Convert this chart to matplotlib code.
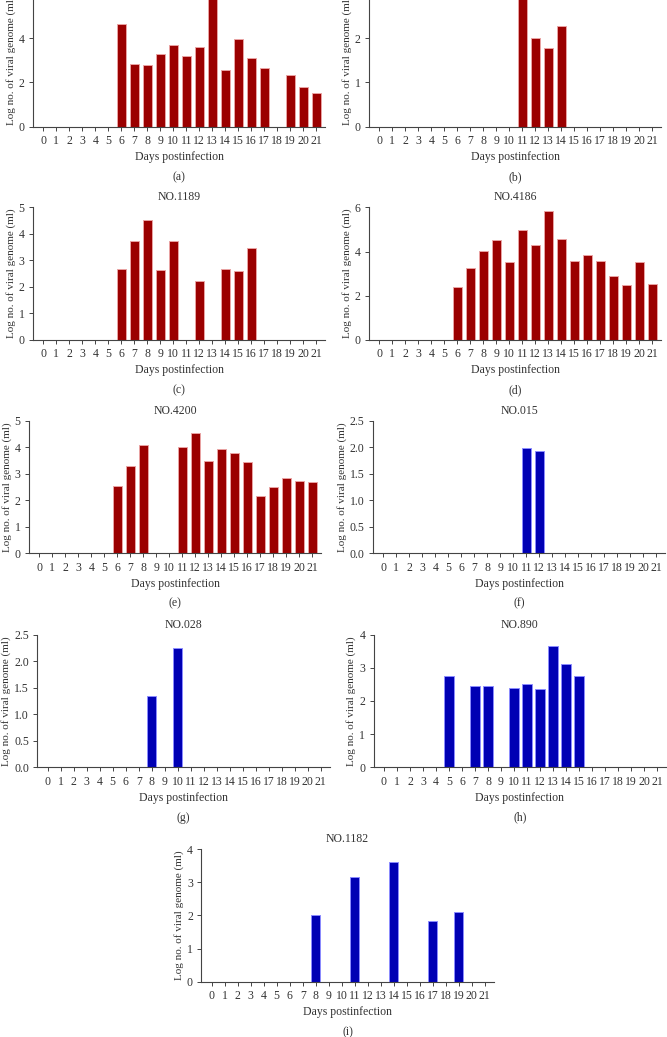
import matplotlib.pyplot as plt

# Days postinfection (x categories)
days = list(range(22))

# Log no. of viral genome per animal (0 = not detected)
vals_a = [0, 0, 0, 0, 0, 0, 4.63, 2.84, 2.78, 3.27, 3.68, 3.20, 3.62, 5.90, 2.58, 3.98, 3.12, 2.64, 0, 2.35, 1.81, 1.54]
vals_b = [0, 0, 0, 0, 0, 0, 0, 0, 0, 0, 0, 2.95, 2.00, 1.77, 2.27, 0, 0, 0, 0, 0, 0, 0]
vals_1189 = [0, 0, 0, 0, 0, 0, 2.68, 3.72, 4.52, 2.63, 3.72, 0, 2.22, 0, 2.66, 2.61, 3.45, 0, 0, 0, 0, 0]
vals_4186 = [0, 0, 0, 0, 0, 0, 2.38, 3.24, 4.03, 4.51, 3.53, 4.96, 4.31, 5.84, 4.57, 3.59, 3.83, 3.57, 2.90, 2.49, 3.53, 2.55]
vals_4200 = [0, 0, 0, 0, 0, 0, 2.54, 3.30, 4.07, 0, 0, 4.00, 4.52, 3.49, 3.94, 3.79, 3.44, 2.17, 2.49, 2.84, 2.71, 2.68]
vals_015 = [0, 0, 0, 0, 0, 0, 0, 0, 0, 0, 0, 1.98, 1.93, 0, 0, 0, 0, 0, 0, 0, 0, 0]
vals_028 = [0, 0, 0, 0, 0, 0, 0, 0, 1.35, 0, 2.24, 0, 0, 0, 0, 0, 0, 0, 0, 0, 0, 0]
vals_890 = [0, 0, 0, 0, 0, 2.76, 0, 2.44, 2.44, 0, 2.40, 2.50, 2.36, 3.65, 3.12, 2.76, 0, 0, 0, 0, 0, 0]
vals_1182 = [0, 0, 0, 0, 0, 0, 0, 0, 2.00, 0, 0, 3.15, 0, 0, 3.61, 0, 0, 1.82, 0, 2.11, 0, 0]

RED, RED_EDGE = '#9b0000', '#e9a3a3'
BLUE, BLUE_EDGE = '#0000b4', '#8c8cff'

W, H = 667, 1037
plt.rcParams['font.family'] = ['Liberation Serif', 'DejaVu Serif']

fig = plt.figure(figsize=(W / 100, H / 100), dpi=100)

# (title, values, color, edge, ymax, yticks, tick fmt, x of label "0" in px, bottom of axes in px, caption)
panels = [
    (None, vals_a, RED, RED_EDGE, 6, [0, 2, 4, 6], '%d', 43.3, 126.7, '(a)'),
    (None, vals_b, RED, RED_EDGE, 3, [0, 1, 2, 3], '%d', 379.3, 126.7, '(b)'),
    ('NO.1189', vals_1189, RED, RED_EDGE, 5, [0, 1, 2, 3, 4, 5], '%d', 43.3, 340, '(c)'),
    ('NO.4186', vals_4186, RED, RED_EDGE, 6, [0, 2, 4, 6], '%d', 379.3, 340, '(d)'),
    ('NO.4200', vals_4200, RED, RED_EDGE, 5, [0, 1, 2, 3, 4, 5], '%d', 39.3, 553.3, '(e)'),
    ('NO.015', vals_015, BLUE, BLUE_EDGE, 2.5, [0, 0.5, 1, 1.5, 2, 2.5], '%.1f', 383.3, 553.3, '(f)'),
    ('NO.028', vals_028, BLUE, BLUE_EDGE, 2.5, [0, 0.5, 1, 1.5, 2, 2.5], '%.1f', 47.7, 767.3, '(g)'),
    ('NO.890', vals_890, BLUE, BLUE_EDGE, 4, [0, 1, 2, 3, 4], '%d', 384, 767.3, '(h)'),
    ('NO.1182', vals_1182, BLUE, BLUE_EDGE, 4, [0, 1, 2, 3, 4], '%d', 211.7, 981.7, '(i)'),
]

step = 13.0
ax_h = 132.7
xmin, xmax = -0.8, 21.7
txt = '#333333'

for title, vals, col, edge, ymax, yt, fmt, x0, ybot, cap in panels:
    left = x0 + xmin * step
    width = (xmax - xmin) * step
    ax = fig.add_axes([left / W, 1 - ybot / H, width / W, ax_h / H])
    ax.bar(days, vals, width=0.7, color=col, edgecolor=edge, linewidth=0.7)
    ax.set_xlim(xmin, xmax)
    ax.set_ylim(0, ymax)
    ax.set_xticks(days)
    ax.set_xticklabels([str(d) for d in days])
    ax.set_yticks(yt)
    ax.set_yticklabels([fmt % v for v in yt])
    for s in ['top', 'right']:
        ax.spines[s].set_visible(False)
    for s in ['left', 'bottom']:
        ax.spines[s].set_color('#444444')
        ax.spines[s].set_linewidth(0.8)
    ax.tick_params(axis='both', colors='#444444', labelcolor=txt, labelsize=8.5,
                   length=3, width=0.7, pad=3)
    ax.set_xlabel('Days postinfection', fontsize=8.5, color=txt, labelpad=3)
    ax.set_ylabel('Log no. of viral genome (ml)', fontsize=8, color=txt, labelpad=2)
    if title:
        ax.set_title(title, fontsize=8.5, color=txt, pad=5)
    ax.text(0.5, -0.38, cap, transform=ax.transAxes, ha='center', va='center',
            fontsize=8.5, color=txt)

fig.savefig('out.png', dpi=100)
